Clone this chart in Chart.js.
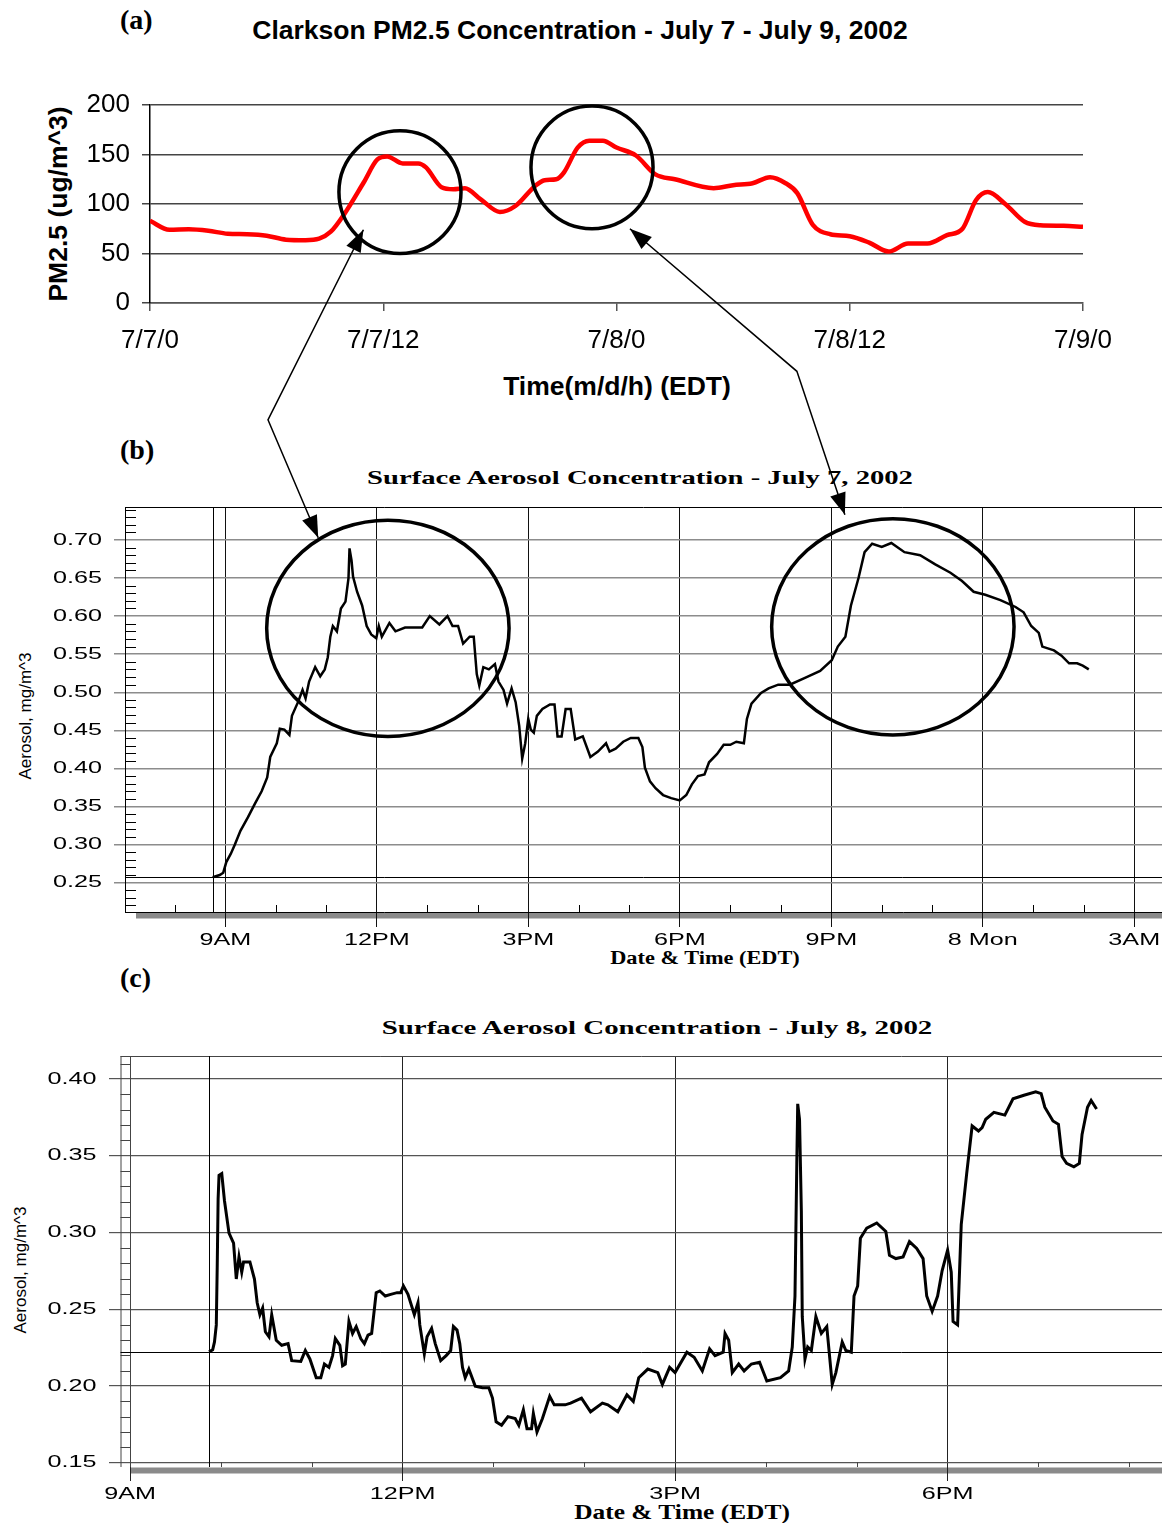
<!DOCTYPE html>
<html>
<head>
  <meta charset="utf-8">
  <title>Clarkson PM2.5 and Surface Aerosol, July 7 - 9, 2002</title>
  <script src="https://cdn.jsdelivr.net/npm/chart.js"></script>
  <style>
    body {
      margin: 0;
      width: 1162px;
      height: 1523px;
      overflow: hidden;
      position: relative;
      background: #fff;
      font-family: "Liberation Sans", Arial, sans-serif;
    }
    canvas { position: absolute; left: 0; }
    #overlay { top: 0; z-index: 5; pointer-events: none; }
    .t {
      position: absolute;
      white-space: nowrap;
      line-height: 1;
      color: #000;
      transform: translate(-50%, -50%);
    }
    .panel { font-family: "Liberation Serif", serif; font-weight: bold; font-size: 28px; transform: translate(0, -50%); }
    .sans-b { font-weight: bold; font-size: 26.5px; }
    .serif-b { font-family: "Liberation Serif", serif; font-weight: bold; }
    .rot { transform: translate(-50%, -50%) rotate(-90deg); }
  </style>
</head>
<body>

  <div class="t panel" style="left:120px; top:20px">(a)</div>
  <div class="t sans-b" style="left:580px; top:30px">Clarkson PM2.5 Concentration - July 7 - July 9, 2002</div>
  <div class="t sans-b rot" style="left:58px; top:204px">PM2.5 (ug/m^3)</div>
  <div class="t sans-b" style="left:617px; top:386px">Time(m/d/h) (EDT)</div>

  <div class="t panel" style="left:120px; top:450px">(b)</div>
  <div class="t serif-b" style="left:640px; top:477px; font-size:19px; transform:translate(-50%,-50%) scaleX(1.507)">Surface Aerosol Concentration - July 7, 2002</div>
  <div class="t rot" style="left:25px; top:716px; font-size:17px">Aerosol, mg/m^3</div>
  <div class="t serif-b" style="left:705px; top:958px; font-size:18px; transform:translate(-50%,-50%) scaleX(1.24)">Date &amp; Time (EDT)</div>

  <div class="t panel" style="left:120px; top:978px">(c)</div>
  <div class="t serif-b" style="left:657px; top:1027px; font-size:19px; transform:translate(-50%,-50%) scaleX(1.52)">Surface Aerosol Concentration - July 8, 2002</div>
  <div class="t rot" style="left:20px; top:1270px; font-size:17px">Aerosol, mg/m^3</div>
  <div class="t serif-b" style="left:682px; top:1512px; font-size:21px; transform:translate(-50%,-50%) scaleX(1.21)">Date &amp; Time (EDT)</div>

  <canvas id="pm" width="1162" height="360" style="top:60px"></canvas>
  <canvas id="jul7" width="1162" height="460" style="top:495px"></canvas>
  <canvas id="jul8" width="1162" height="478" style="top:1045px"></canvas>
  <canvas id="overlay" width="1162" height="1523"></canvas>

  <script>
    // (a) Clarkson PM2.5, hours since 7/7 0:00
    const pmHours = [0, 1, 2, 3, 4, 5, 6, 7, 8, 8.7, 9.3, 10, 11, 11.7, 12.2, 13, 13.8, 14.2, 15, 15.6,
      16.2, 17, 18, 18.8, 19.8, 20.3, 20.9, 21.3, 22, 22.6, 23.3, 24, 25, 26, 27, 29, 30, 31, 31.9, 32.7,
      33.3, 34.1, 35, 36, 37, 38, 39, 40, 41, 41.8, 42.5, 43.1, 44, 45, 45.8, 47, 48];
    const pmValues = [83, 74, 74.5, 73, 70, 69.5, 68, 64, 63.5, 65, 72, 90, 122, 145, 148, 141, 141, 137, 117, 115,
      116, 105, 92, 98, 118, 124, 125, 132, 157, 164, 164, 157, 149, 130, 125, 116, 119, 121, 127, 121,
      111, 79, 69.5, 67.5, 61, 52, 60, 60, 68.5, 75, 104, 112, 100, 82, 78.5, 78, 77];
    const pmTickLabels = ['7/7/0', '7/7/12', '7/8/0', '7/8/12', '7/9/0'];

    // (b) surface aerosol July 7, hours since 7/7 0:00
    const jul7Hours = [8.75, 8.89, 8.96, 9.02, 9.11, 9.19, 9.30, 9.45, 9.59, 9.72, 9.83, 9.89, 10.02, 10.08, 10.17,
      10.27, 10.32, 10.44, 10.53, 10.59, 10.66, 10.78, 10.88, 10.97, 11.03, 11.08, 11.13, 11.21, 11.29, 11.38,
      11.44, 11.46, 11.50, 11.53, 11.61, 11.71, 11.80, 11.89, 11.99, 12.04, 12.10, 12.25, 12.37, 12.56, 12.90,
      13.05, 13.24, 13.40, 13.50, 13.61, 13.71, 13.84, 13.92, 13.98, 14.03, 14.11, 14.22, 14.34, 14.41, 14.51,
      14.58, 14.67, 14.75, 14.82, 14.88, 14.94, 15.00, 15.05, 15.11, 15.17, 15.28, 15.43, 15.52, 15.58, 15.66,
      15.74, 15.84, 15.93, 16.08, 16.23, 16.38, 16.54, 16.61, 16.73, 16.88, 17.03, 17.18, 17.26, 17.31, 17.41,
      17.52, 17.67, 17.83, 18.00, 18.13, 18.24, 18.36, 18.49, 18.58, 18.74, 18.87, 19.00, 19.12, 19.27, 19.33,
      19.42, 19.61, 19.76, 19.95, 20.18, 20.48, 20.78, 21.01, 21.13, 21.28, 21.39, 21.54, 21.66, 21.81, 22.00,
      22.19, 22.45, 22.76, 23.06, 23.36, 23.59, 23.82, 24.05, 24.35, 24.65, 24.81, 24.96, 25.11, 25.18, 25.41,
      25.56, 25.71, 25.87, 25.98, 26.10];
    const jul7Aerosol = [0.257, 0.260, 0.263, 0.277, 0.288, 0.300, 0.318, 0.336, 0.354, 0.370, 0.388, 0.415, 0.433, 0.452, 0.451,
      0.444, 0.469, 0.487, 0.503, 0.492, 0.514, 0.533, 0.521, 0.530, 0.546, 0.573, 0.587, 0.580, 0.610, 0.619,
      0.650, 0.689, 0.673, 0.652, 0.632, 0.614, 0.587, 0.576, 0.571, 0.587, 0.573, 0.591, 0.580, 0.585, 0.585,
      0.600, 0.589, 0.600, 0.587, 0.587, 0.564, 0.573, 0.573, 0.524, 0.509, 0.533, 0.530, 0.537, 0.514, 0.503,
      0.485, 0.505, 0.487, 0.456, 0.413, 0.433, 0.465, 0.451, 0.447, 0.469, 0.478, 0.484, 0.484, 0.442, 0.442,
      0.478, 0.478, 0.438, 0.442, 0.415, 0.422, 0.433, 0.422, 0.426, 0.435, 0.440, 0.440, 0.428, 0.401, 0.383,
      0.374, 0.365, 0.361, 0.358, 0.365, 0.379, 0.390, 0.392, 0.408, 0.419, 0.431, 0.431, 0.435, 0.433, 0.465,
      0.485, 0.499, 0.505, 0.510, 0.510, 0.519, 0.528, 0.542, 0.560, 0.573, 0.614, 0.650, 0.684, 0.695, 0.691,
      0.696, 0.684, 0.680, 0.668, 0.657, 0.646, 0.632, 0.628, 0.621, 0.612, 0.605, 0.587, 0.578, 0.560, 0.555,
      0.548, 0.538, 0.538, 0.535, 0.530];
    const jul7TickHours = [9, 12, 15, 18, 21, 24, 27];
    const jul7TickLabels = ['9AM', '12PM', '3PM', '6PM', '9PM', '8 Mon', '3AM'];
    const jul7YTicks = [0.25, 0.30, 0.35, 0.40, 0.45, 0.50, 0.55, 0.60, 0.65, 0.70];

    // (c) surface aerosol July 8, hours since 7/8 0:00
    const jul8Hours = [9.87, 9.91, 9.93, 9.95, 9.96, 9.97, 9.98, 10.01, 10.04, 10.09, 10.14, 10.17, 10.20, 10.23, 10.25,
      10.32, 10.37, 10.40, 10.43, 10.46, 10.49, 10.53, 10.56, 10.61, 10.67, 10.74, 10.78, 10.88, 10.93, 10.98,
      11.05, 11.10, 11.14, 11.19, 11.23, 11.26, 11.31, 11.34, 11.37, 11.41, 11.45, 11.49, 11.54, 11.58, 11.62,
      11.66, 11.71, 11.75, 11.81, 11.87, 11.94, 11.98, 12.01, 12.06, 12.13, 12.17, 12.19, 12.24, 12.27, 12.32,
      12.36, 12.42, 12.48, 12.53, 12.56, 12.60, 12.63, 12.66, 12.69, 12.73, 12.80, 12.88, 12.95, 12.99, 13.03,
      13.09, 13.16, 13.24, 13.28, 13.33, 13.37, 13.42, 13.44, 13.48, 13.54, 13.62, 13.67, 13.79, 13.85, 13.97,
      14.07, 14.20, 14.26, 14.37, 14.47, 14.54, 14.60, 14.70, 14.81, 14.86, 14.94, 15.00, 15.13, 15.21, 15.30,
      15.38, 15.44, 15.53, 15.55, 15.59, 15.63, 15.70, 15.76, 15.84, 15.93, 16.01, 16.16, 16.25, 16.29, 16.32,
      16.34, 16.35, 16.37, 16.39, 16.40, 16.43, 16.46, 16.50, 16.55, 16.61, 16.67, 16.73, 16.77, 16.84, 16.88,
      16.94, 16.97, 17.01, 17.04, 17.11, 17.22, 17.32, 17.36, 17.43, 17.51, 17.58, 17.66, 17.73, 17.77, 17.83,
      17.89, 17.94, 18.00, 18.04, 18.06, 18.11, 18.15, 18.17, 18.21, 18.27, 18.34, 18.38, 18.42, 18.51, 18.63,
      18.72, 18.84, 18.97, 19.03, 19.07, 19.16, 19.22, 19.26, 19.31, 19.39, 19.45, 19.48, 19.54, 19.58, 19.64];
    const jul8Aerosol = [0.2222, 0.2236, 0.2287, 0.2398, 0.2774, 0.3218, 0.3373, 0.3384, 0.3207, 0.2996, 0.2930, 0.2697, 0.2841, 0.2741, 0.2808,
      0.2808, 0.2697, 0.2542, 0.2464, 0.2508, 0.2353, 0.2320, 0.2464, 0.2298, 0.2265, 0.2276, 0.2165, 0.2160, 0.2231, 0.2176,
      0.2054, 0.2054, 0.2143, 0.2121, 0.2198, 0.2309, 0.2265, 0.2132, 0.2143, 0.2420, 0.2342, 0.2387, 0.2309, 0.2276, 0.2331,
      0.2342, 0.2608, 0.2619, 0.2586, 0.2597, 0.2608, 0.2608, 0.2652, 0.2597, 0.2464, 0.2542, 0.2398, 0.2209, 0.2320, 0.2375,
      0.2276, 0.2165, 0.2198, 0.2231, 0.2387, 0.2364, 0.2276, 0.2121, 0.2054, 0.2110, 0.1999, 0.1988, 0.1988, 0.1921, 0.1766,
      0.1744, 0.1800, 0.1788, 0.1744, 0.1844, 0.1722, 0.1722, 0.1821, 0.1700, 0.1788, 0.1932, 0.1877, 0.1877, 0.1888, 0.1921,
      0.1832, 0.1888, 0.1877, 0.1832, 0.1943, 0.1899, 0.2054, 0.2110, 0.2087, 0.2010, 0.2121, 0.2087, 0.2220, 0.2187, 0.2098,
      0.2242, 0.2198, 0.2220, 0.2342, 0.2298, 0.2087, 0.2143, 0.2098, 0.2143, 0.2154, 0.2032, 0.2054, 0.2098, 0.2254, 0.2586,
      0.3450, 0.3838, 0.3738, 0.3140, 0.2453, 0.2176, 0.2254, 0.2231, 0.2453, 0.2342, 0.2387, 0.2010, 0.2087, 0.2287, 0.2231,
      0.2220, 0.2586, 0.2652, 0.2963, 0.3029, 0.3062, 0.3007, 0.2852, 0.2830, 0.2841, 0.2941, 0.2896, 0.2830, 0.2586, 0.2486,
      0.2586, 0.2752, 0.2885, 0.2741, 0.2420, 0.2398, 0.3051, 0.3162, 0.3384, 0.3694, 0.3661, 0.3683, 0.3738, 0.3783, 0.3765,
      0.3871, 0.3894, 0.3916, 0.3905, 0.3816, 0.3727, 0.3705, 0.3495, 0.3450, 0.3428, 0.3450, 0.3639, 0.3816, 0.3860, 0.3805];
    const jul8TickHours = [9, 12, 15, 18];
    const jul8TickLabels = ['9AM', '12PM', '3PM', '6PM'];
    const jul8YTicks = [0.15, 0.20, 0.25, 0.30, 0.35, 0.40];

    // circles and arrows, in the data units of the chart they sit on
    const circles = [
      { chart: 'a', x: 12.86, y: 112, rx: 3.14, ry: 62 },
      { chart: 'a', x: 22.74, y: 137, rx: 3.14, ry: 62 },
      { chart: 'b', x: 12.22, y: 0.584, rx: 2.40, ry: 0.142 },
      { chart: 'b', x: 22.22, y: 0.586, rx: 2.40, ry: 0.142 }
    ];
    const arrows = [
      [{ chart: 'a', x: 10.98, y: 74 }, { chart: 'a', x: 6.07, y: -118 }, { chart: 'b', x: 10.84, y: 0.703 }],
      [{ chart: 'a', x: 24.69, y: 75 }, { chart: 'a', x: 33.28, y: -69 }, { chart: 'b', x: 21.27, y: 0.733 }]
    ];

    const xy = (xs, ys) => xs.map((x, i) => ({ x: x, y: ys[i] }));

    // ruler ticks, grey base bar, cursor lines and stretched tick labels of the logger plots
    const ruler = {
      id: 'ruler',
      beforeDraw(chart, args, o) {
        const { ctx, chartArea: a } = chart;
        ctx.save();
        ctx.fillStyle = '#8a8a8a';
        ctx.fillRect(a.left + o.barOffset, a.bottom + 0.5, a.right - a.left - o.barOffset, o.barH);
        ctx.restore();
      },
      beforeDatasetsDraw(chart, args, o) {
        const { ctx, chartArea: a, scales: { x, y } } = chart;
        ctx.save();
        ctx.strokeStyle = o.color;
        ctx.lineWidth = 1;
        ctx.beginPath();
        ctx.moveTo(a.left - o.outer, a.top + 0.5);
        ctx.lineTo(a.right, a.top + 0.5);
        if (o.outer) {
          ctx.moveTo(a.left - o.outer + 0.5, a.top);
          ctx.lineTo(a.left - o.outer + 0.5, a.bottom);
        }
        for (let v = Math.ceil(y.min * 100); v <= y.max * 100; v++) {
          if (v % 5 === 0) continue;
          const py = Math.round(y.getPixelForValue(v / 100)) + 0.5;
          if (o.outer) { ctx.moveTo(a.left - o.outer, py); ctx.lineTo(a.left, py); }
          else { ctx.moveTo(a.left, py); ctx.lineTo(a.left + o.tickY, py); }
        }
        for (let h = Math.ceil(x.min); h <= x.max; h++) {
          if (h % 3 === 0) continue;
          const px = Math.round(x.getPixelForValue(h)) + 0.5;
          ctx.moveTo(px, a.bottom);
          ctx.lineTo(px, a.bottom - o.tickX);
        }
        ctx.stroke();

        // cursor lines through the first reading
        const p0 = chart.getDatasetMeta(0).data[0];
        const cx = Math.round(p0.x) + 0.5, cy = Math.round(p0.y) + 0.5;
        ctx.strokeStyle = '#000';
        ctx.beginPath();
        ctx.moveTo(cx, a.top);
        ctx.lineTo(cx, a.bottom);
        ctx.moveTo(a.left - o.outer, cy);
        ctx.lineTo(a.right, cy);
        ctx.stroke();
        ctx.restore();
      },
      afterDraw(chart, args, o) {
        const { ctx, chartArea: a, scales: { x, y } } = chart;
        ctx.save();
        ctx.fillStyle = '#000';
        ctx.font = o.font;
        ctx.textBaseline = 'middle';
        ctx.textAlign = 'center';
        x.ticks.forEach(t => {
          ctx.save();
          ctx.translate(x.getPixelForValue(t.value), a.bottom + o.xGap);
          ctx.scale(o.sx, 1);
          ctx.fillText(t.label, 0, 0);
          ctx.restore();
        });
        ctx.textAlign = 'right';
        y.ticks.forEach(t => {
          ctx.save();
          ctx.translate(a.left - o.yGap, y.getPixelForValue(t.value));
          ctx.scale(o.sx, 1);
          ctx.fillText(t.label, 0, 0);
          ctx.restore();
        });
        ctx.restore();
      }
    };

    const chartA = new Chart(document.getElementById('pm'), {
      type: 'line',
      data: {
        datasets: [{
          data: xy(pmHours, pmValues),
          borderColor: '#ff0000',
          borderWidth: 4.5,
          pointRadius: 0,
          cubicInterpolationMode: 'monotone',
          fill: false
        }]
      },
      options: {
        responsive: false,
        animation: false,
        events: [],
        layout: { padding: { top: 45, right: 79, left: 0, bottom: 0 } },
        plugins: { legend: { display: false }, tooltip: { enabled: false } },
        scales: {
          x: {
            type: 'linear', min: 0, max: 48,
            afterFit: s => { s.height = 117; },
            grid: { drawOnChartArea: false, tickLength: 8, color: '#555', lineWidth: 1.5 },
            border: { color: '#555', width: 1.5 },
            ticks: {
              stepSize: 12, padding: 14, color: '#000', maxRotation: 0, autoSkip: false,
              font: { family: 'Liberation Sans', size: 26 },
              callback: v => pmTickLabels[v / 12]
            }
          },
          y: {
            min: 0, max: 200,
            afterFit: s => { s.width = 150; },
            grid: { color: '#444', lineWidth: 1.5, tickLength: 8 },
            border: { color: '#000', width: 1.5 },
            ticks: { stepSize: 50, padding: 12, color: '#000', font: { family: 'Liberation Sans', size: 26 } }
          }
        }
      }
    });

    const chartB = new Chart(document.getElementById('jul7'), {
      type: 'line',
      data: {
        datasets: [{ data: xy(jul7Hours, jul7Aerosol), borderColor: '#000', borderWidth: 2.5, pointRadius: 0, tension: 0 }]
      },
      options: {
        responsive: false,
        animation: false,
        events: [],
        layout: { padding: { top: 12, right: 0, left: 0, bottom: 0 } },
        plugins: {
          legend: { display: false }, tooltip: { enabled: false },
          ruler: { color: '#000', outer: 0, tickY: 11, tickX: 7, barOffset: 11, barH: 6,
                   font: '17px "Liberation Sans"', sx: 1.48, xGap: 28, yGap: 23 }
        },
        scales: {
          x: {
            type: 'linear', min: 7.014, max: 27.55,
            afterFit: s => { s.height = 43; },
            afterBuildTicks: s => { s.ticks = jul7TickHours.map(v => ({ value: v })); },
            grid: { color: '#111', lineWidth: 1, tickLength: 15 },
            border: { color: '#000', width: 1 },
            ticks: { display: false, callback: v => jul7TickLabels[jul7TickHours.indexOf(v)] }
          },
          y: {
            min: 0.2114, max: 0.7433,
            afterFit: s => { s.width = 125; },
            afterBuildTicks: s => { s.ticks = jul7YTicks.map(v => ({ value: v })); },
            grid: { color: '#8c8c8c', lineWidth: 1.5, tickLength: 11 },
            border: { color: '#000', width: 1 },
            ticks: { display: false, callback: v => v.toFixed(2) }
          }
        }
      },
      plugins: [ruler]
    });

    const chartC = new Chart(document.getElementById('jul8'), {
      type: 'line',
      data: {
        datasets: [{ data: xy(jul8Hours, jul8Aerosol), borderColor: '#000', borderWidth: 3, pointRadius: 0, tension: 0 }]
      },
      options: {
        responsive: false,
        animation: false,
        events: [],
        layout: { padding: { top: 11, right: 0, left: 0, bottom: 0 } },
        plugins: {
          legend: { display: false }, tooltip: { enabled: false },
          ruler: { color: '#444', outer: 9.5, tickY: 0, tickX: 5, barOffset: 0, barH: 6,
                   font: '17px "Liberation Sans"', sx: 1.48, xGap: 27, yGap: 33.5 }
        },
        scales: {
          x: {
            type: 'linear', min: 9, max: 20.36,
            afterFit: s => { s.height = 56; },
            afterBuildTicks: s => { s.ticks = jul8TickHours.map(v => ({ value: v })); },
            grid: { color: '#222', lineWidth: 1, tickLength: 14 },
            border: { display: false },
            ticks: { display: false, callback: v => jul8TickLabels[jul8TickHours.indexOf(v)] }
          },
          y: {
            min: 0.1472, max: 0.415,
            afterFit: s => { s.width = 130; },
            afterBuildTicks: s => { s.ticks = jul8YTicks.map(v => ({ value: v })); },
            grid: { color: '#555', lineWidth: 1.2, tickLength: 21 },
            border: { color: '#444', width: 1 },
            ticks: { display: false, callback: v => v.toFixed(2) }
          }
        }
      },
      plugins: [ruler]
    });

    // circles and arrows across the panels
    const charts = { a: chartA, b: chartB, c: chartC };
    const toPage = p => {
      const ch = charts[p.chart];
      return [ch.canvas.offsetLeft + ch.scales.x.getPixelForValue(p.x),
              ch.canvas.offsetTop + ch.scales.y.getPixelForValue(p.y)];
    };
    const ov = document.getElementById('overlay').getContext('2d');
    ov.strokeStyle = '#000';
    ov.fillStyle = '#000';

    circles.forEach(c => {
      const ch = charts[c.chart];
      const [cx, cy] = toPage(c);
      const rx = Math.abs(ch.scales.x.getPixelForValue(c.x + c.rx) - ch.scales.x.getPixelForValue(c.x));
      const ry = Math.abs(ch.scales.y.getPixelForValue(c.y + c.ry) - ch.scales.y.getPixelForValue(c.y));
      ov.lineWidth = 3.5;
      ov.beginPath();
      ov.ellipse(cx, cy, rx, ry, 0, 0, Math.PI * 2);
      ov.stroke();
    });

    function head(tip, from) {
      const ang = Math.atan2(tip[1] - from[1], tip[0] - from[0]);
      const len = 22, half = 8;
      ov.beginPath();
      ov.moveTo(tip[0], tip[1]);
      ov.lineTo(tip[0] - len * Math.cos(ang) + half * Math.sin(ang), tip[1] - len * Math.sin(ang) - half * Math.cos(ang));
      ov.lineTo(tip[0] - len * Math.cos(ang) - half * Math.sin(ang), tip[1] - len * Math.sin(ang) + half * Math.cos(ang));
      ov.closePath();
      ov.fill();
    }

    arrows.forEach(path => {
      const pts = path.map(toPage);
      ov.lineWidth = 1.5;
      ov.beginPath();
      ov.moveTo(pts[0][0], pts[0][1]);
      pts.slice(1).forEach(p => ov.lineTo(p[0], p[1]));
      ov.stroke();
      head(pts[0], pts[1]);
      head(pts[2], pts[1]);
    });
  </script>
</body>
</html>
